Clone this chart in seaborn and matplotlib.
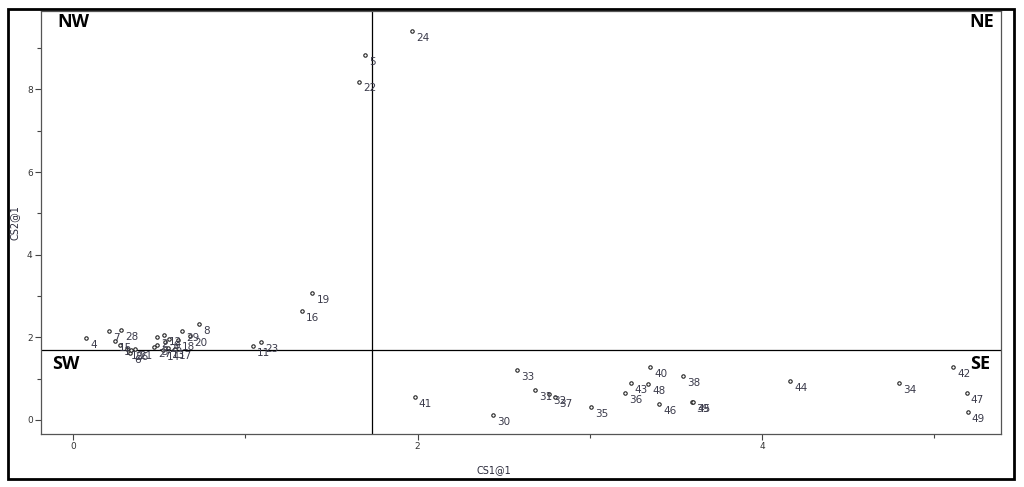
import pandas as pd
import matplotlib.pyplot as plt
import seaborn as sns
from matplotlib.patches import Rectangle
from matplotlib.ticker import MultipleLocator

labels = ['1', '2', '3', '4', '6', '7', '8', '9', '10', '11', '12', '13', '14', '15',
          '17', '18', '20', '21', '23', '25', '26', '27', '28', '29',
          '5', '16', '19', '22', '24',
          '30', '31', '32', '33', '34', '35', '36', '37', '38', '39', '40',
          '41', '42', '43', '44', '45', '46', '47', '48', '49']
cs1 = [0.273, 0.49, 0.49, 0.075, 0.331, 0.209, 0.73, 0.56, 0.313, 1.045, 0.53, 0.55, 0.52, 0.244,
       0.59, 0.61, 0.68, 0.36, 1.09, 0.534, 0.337, 0.47, 0.279, 0.633,
       1.695, 1.327, 1.389, 1.66, 1.967,
       2.436, 2.681, 2.76, 2.579, 4.796, 3.004, 3.206, 2.80, 3.538, 3.594, 3.349,
       1.983, 5.109, 3.237, 4.161, 3.60, 3.40, 5.187, 3.339, 5.192]
cs2 = [1.82, 2.01, 1.82, 1.97, 1.62, 2.15, 2.32, 1.96, 1.72, 1.79, 2.06, 1.74, 1.69, 1.91,
       1.72, 1.94, 2.03, 1.72, 1.89, 1.89, 1.69, 1.77, 2.18, 2.15,
       8.84, 2.63, 3.07, 8.19, 9.42,
       0.12, 0.73, 0.62, 1.21, 0.90, 0.30, 0.64, 0.55, 1.07, 0.43, 1.28,
       0.55, 1.28, 0.90, 0.93, 0.43, 0.38, 0.64, 0.87, 0.18]
x_cut = 1.735
y_cut = 1.695
quadrants = ['NW', 'NE', 'SW', 'SE']

df = pd.DataFrame({'label': labels, 'cs1': cs1, 'cs2': cs2})

sns.set_style('white')
fig = plt.figure(figsize=(10.24, 4.87), dpi=100)
ax = fig.add_axes([0.040, 0.109, 0.9375, 0.8686])

sns.scatterplot(data=df, x='cs1', y='cs2', marker='o', s=6, facecolor='white',
                edgecolor='#222222', linewidth=0.8, ax=ax, zorder=3)
for _, row in df.iterrows():
    ax.annotate(row['label'], (row['cs1'], row['cs2']), xytext=(3, -5),
                textcoords='offset points', ha='left', va='center',
                fontsize=7.5, color='#3a3a4a', zorder=4)

ax.axvline(x_cut, color='black', linewidth=0.9, zorder=1)
ax.axhline(y_cut, color='black', linewidth=0.9, zorder=1)

ax.set_xlim(-0.186, 5.386)
ax.set_ylim(-0.34, 9.9)
ax.xaxis.set_major_locator(MultipleLocator(2))
ax.xaxis.set_minor_locator(MultipleLocator(1))
ax.yaxis.set_major_locator(MultipleLocator(2))
ax.yaxis.set_minor_locator(MultipleLocator(1))
ax.tick_params(which='major', direction='out', length=4, width=0.8, color='#444444',
               labelsize=6.5, labelcolor='#333333', pad=2, bottom=True, left=True)
ax.tick_params(which='minor', direction='out', length=3, width=0.8, color='#444444',
               bottom=True, left=True)
for s in ax.spines.values():
    s.set_color('#555555')
    s.set_linewidth(0.9)
ax.set_xlabel('CS1@1', fontsize=7, color='#2a2a3a')
ax.set_ylabel('CS2@1', fontsize=7, color='#2a2a3a')
ax.xaxis.set_label_coords(0.472, -0.073)
ax.yaxis.set_label_coords(-0.022, 0.5)

qpos = [(0.034, 0.974), (0.980, 0.974), (0.026, 0.165), (0.978, 0.165)]
for q, (qx, qy) in zip(quadrants, qpos):
    ax.text(qx, qy, q, transform=ax.transAxes, ha='center', va='center',
            fontsize=13, fontweight='bold', color='black', family='Open Sans')

fig.patches.append(Rectangle((0.0078, 0.016), 0.982, 0.965, transform=fig.transFigure,
                             fill=False, edgecolor='black', linewidth=2))

fig.savefig('out.png', dpi=100)
